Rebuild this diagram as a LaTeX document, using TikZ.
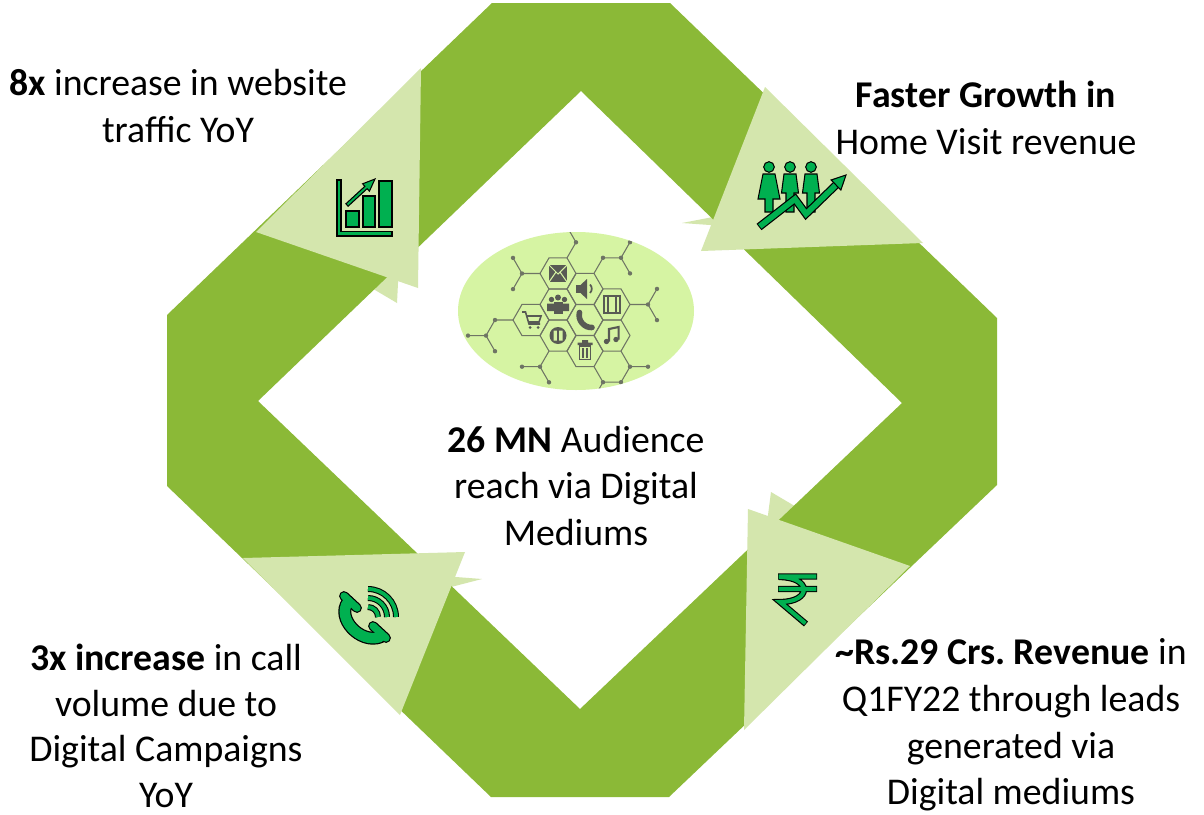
\documentclass[tikz,border=0pt]{standalone}
\usepackage{fontspec}
\setmainfont{Carlito}
\usepackage{tikz}
\usetikzlibrary{positioning,calc}

\definecolor{bandgreen}{RGB}{139,185,55}
\definecolor{headgreen}{RGB}{212,230,173}
\definecolor{hubgreen}{RGB}{214,244,163}
\definecolor{icongreen}{RGB}{0,176,80}
\definecolor{netgray}{RGB}{110,116,100}
\definecolor{glyphgray}{RGB}{88,90,84}

\frenchspacing
\tikzset{
  caption/.style={align=center, inner sep=0pt, font=\fontsize{21.5}{26.5}\selectfont},
  head/.style={fill=headgreen},
  iconfill/.style={fill=icongreen, draw=black, line width=0.6pt},
  iconedge/.style={draw=black, line width=#1},
  iconline/.style={draw=icongreen, line width=#1},
  netline/.style={draw=netgray, line width=0.6pt},
}

\begin{document}
\begin{tikzpicture}[x=0.02cm, y=-0.02cm, line join=miter]
  \fill[white] (0,0) rectangle (1204,815);
  \useasboundingbox (0,0) rectangle (1204,815);

  % second arrowheads, mostly hidden under the band
  \fill[head] (397,303) -- (287,238) -- (405,143) -- cycle;
  \fill[head] (682,223) -- (806,199) -- (794,231) -- cycle;
  \fill[head] (482,579) -- (378,571) -- (358,611) -- cycle;
  \fill[head] (771,492) -- (759,584) -- (859,544) -- cycle;

  % the green ring
  \fill[bandgreen, even odd rule]
    (492,3) -- (670,3) -- (997,318) -- (997,485) -- (669,797) -- (491,797)
    -- (167,486) -- (167,315) -- cycle
    (581,91) -- (902,403) -- (580,709) -- (258,401) -- cycle;

  % arrowheads on the diagonals
  \fill[head] (421,68) -- (418,288) -- (256,232) -- cycle;
  \fill[head] (765,87) -- (923,243) -- (701,251) -- cycle;
  \fill[head] (243,558) -- (465,552) -- (400,715) -- cycle;
  \fill[head] (748,509) -- (910,566) -- (744,730) -- cycle;

  % bar chart
  \filldraw[iconfill] (337,180) -- (341,180) -- (341,231.5) -- (392,231.5) -- (392,236) -- (337,236) -- cycle;
  \filldraw[iconfill] (346,211) rectangle (359,227);
  \filldraw[iconfill] (363,196) rectangle (375,227);
  \filldraw[iconfill] (379,181) rectangle (392,227);
  \filldraw[iconfill] (345.9,203.8) -- (364.9,186.3) -- (362.6,183.8) -- (375,179)
    -- (369.4,191.2) -- (367.1,188.7) -- (348.1,206.2) -- cycle;

  % people and growth line
  \foreach \cx in {790,811} {
    \filldraw[iconfill] (\cx-6,174) -- (\cx+6,174) -- (\cx+8.5,193) -- (\cx+4,193)
      -- (\cx+4,212) -- (\cx-4,212) -- (\cx-4,193) -- (\cx-8.5,193) -- cycle;
    \filldraw[iconfill] (\cx,167) circle (5.3);
  }
  \filldraw[iconfill] (763,174) -- (775,174) -- (780,199) -- (773,199) -- (773,212)
    -- (765,212) -- (765,199) -- (758,199) -- cycle;
  \filldraw[iconfill] (769,167) circle (5.3);
  \draw[iconedge=4.6pt] (759,227) -- (795,199) -- (806,214) -- (837,184);
  \draw[iconline=3.2pt] (759.8,226.4) -- (795,199) -- (806,214) -- (837,184);
  \filldraw[iconfill] (846,175) -- (840.9,190) -- (831.1,180) -- cycle;

  % phone with waves
  \begin{scope}[line cap=butt]
    \draw[iconedge=7.4pt, line cap=round] (348,602) .. controls (336,618) and (360,644) .. (380,637);
    \draw[iconedge=5.6pt, line cap=round] (344,596) -- (357,608) (373,626) -- (386,638);
    \foreach \r in {10,19,28}
      \draw[iconedge=3.4pt] (368,617-\r) arc (-90:0:\r);
    \draw[iconline=6pt, line cap=round] (348,602) .. controls (336,618) and (360,644) .. (380,637);
    \draw[iconline=4.2pt, line cap=round] (344,596) -- (357,608) (373,626) -- (386,638);
    \foreach \r in {10,19,28}
      \draw[iconline=2.2pt] (368,617-\r) arc (-90:0:\r);
  \end{scope}

  % rupee sign
  \draw[iconedge=3.6pt] (778,576.5) -- (817,576.5) (778,589) -- (817,589)
    (779,577) .. controls (812,577) and (812,602) .. (780,602) -- (806,624);
  \draw[iconline=2.3pt] (778.6,576.5) -- (816.4,576.5) (778.6,589) -- (816.4,589)
    (779,577) .. controls (812,577) and (812,602) .. (780,602) -- (805.4,623.4);

  % digital hub
  \fill[hubgreen] (576,311) ellipse [x radius=118, y radius=79];
  \begin{scope}
    \clip (576,311) ellipse [x radius=118, y radius=79];
    \foreach \cx/\cy in {585/289, 585/320, 585/351, 558/273.5, 558/304.5, 558/335.5,
                         612/304.5, 612/335.5, 531/320}
      \draw[netline] (\cx+18,\cy) -- ++(-9,-15.6) -- ++(-18,0) -- ++(-9,15.6)
        -- ++(9,15.6) -- ++(18,0) -- cycle;
    \draw[netline] (567,257.9) -- (576,242.3) -- (567,226.7);
    \draw[netline] (594,273.4) -- (603,257.8) -- (621,257.8) -- (630,242.2) (621,257.8) -- (630,273.4);
    \draw[netline] (630,304.5) -- (648,304.5) -- (657,288.9) (648,304.5) -- (657,320.1);
    \draw[netline] (540,273.5) -- (522,273.5) -- (513,257.9) (522,273.5) -- (513,289.1);
    \draw[netline] (513,320) -- (495,320) -- (486,335.6) -- (468,335.6) (486,335.6) -- (495,351.2);
    \draw[netline] (549,351.1) -- (540,366.7) -- (549,382.3) (540,366.7) -- (522,366.7);
    \draw[netline] (594,366.6) -- (603,382.2) -- (594,397.8) (603,382.2) -- (621,382.2);
    \draw[netline] (621,351.1) -- (630,366.7) -- (648,366.7) (630,366.7) -- (621,382.2);
    \foreach \p in {(576,242.3),(603,257.8),(621,257.8),(630,242.2),(630,273.4),
                    (648,304.5),(657,288.9),(657,320.1),(522,273.5),(513,257.9),
                    (513,289.1),(495,320),(486,335.6),(468,335.6),(495,351.2),
                    (540,366.7),(549,382.3),(522,366.7),(603,382.2),(621,382.2),
                    (630,366.7),(648,366.7)}
      \fill[netgray] \p circle (2.2);
  \end{scope}
  % envelope
  \fill[glyphgray] (549,265) rectangle (567,282);
  \draw[hubgreen, line width=0.6pt] (549,265) -- (558,274) -- (567,265) (549,282) -- (556,272) (567,282) -- (560,272);
  % speaker
  \fill[glyphgray] (576,285) rectangle (580.5,293);
  \fill[glyphgray] (580.5,285) -- (587,279) -- (587,299) -- (580.5,293) -- cycle;
  \draw[glyphgray, line width=1pt] (590,284.5) arc (-45:45:6);
  % group
  \fill[glyphgray] (551.5,299.5) circle (2.7) (564.5,299.5) circle (2.7) (558,297.5) circle (3);
  \fill[glyphgray] (547,303.5) rectangle (555,311) (561,303.5) rectangle (569,311);
  \fill[glyphgray] (553.5,301.5) rectangle (562.5,313.5);
  % film
  \draw[glyphgray, line width=1pt] (604,296) rectangle (620,313) (608,296) -- (608,313) (616,296) -- (616,313);
  % cart
  \draw[glyphgray, line width=0.9pt] (522,312) -- (525.5,312) -- (529,324) -- (540,324)
    (526.5,316) -- (541,316) -- (539,322) -- (528.5,322);
  \fill[glyphgray] (530,327.5) circle (1.5) (538,327.5) circle (1.5);
  % handset
  \draw[glyphgray, line width=3.2pt, line cap=round] (579.5,312.5) .. controls (577.5,320) and (584,328) .. (592,327.5);
  % pause
  \fill[glyphgray] (558,335.5) circle (8.5);
  \fill[hubgreen] (553.5,330.5) rectangle (556.8,340.5) (559.2,330.5) rectangle (562.5,340.5);
  % notes
  \fill[glyphgray] (606.5,341.5) circle (2.7) (616,339.5) circle (2.7);
  \draw[glyphgray, line width=1.2pt] (609,341.5) -- (609,329) -- (618.6,327) -- (618.6,339.5);
  % bin
  \fill[glyphgray] (577.5,342.5) rectangle (592.5,345.2) (582,340) rectangle (588,342.5);
  \draw[glyphgray, line width=1pt] (579.5,346) rectangle (590.5,359.5) (583,348) -- (583,357.5) (587,348) -- (587,357.5);

  % texts
  \node[caption] (traffic) at (178,106) {\textbf{8x} increase in website\\traffic YoY};
  \node[caption] (growth) at (986,118) {\textbf{Faster Growth in}\\Home Visit revenue};
  \node[caption] (reach) at (576,486) {\textbf{26 MN} Audience\\reach via Digital\\Mediums};
  \node[caption, font=\fontsize{21.5}{26}\selectfont] (calls) at (166,726)
    {\textbf{3x increase} in call\\volume due to\\Digital Campaigns\\YoY};
  \node[caption] (revenue) at (1011,725) {\textbf{\textasciitilde Rs.29 Crs. Revenue} in\\Q1FY22 through leads\\generated via\\Digital mediums};
\end{tikzpicture}
\end{document}
